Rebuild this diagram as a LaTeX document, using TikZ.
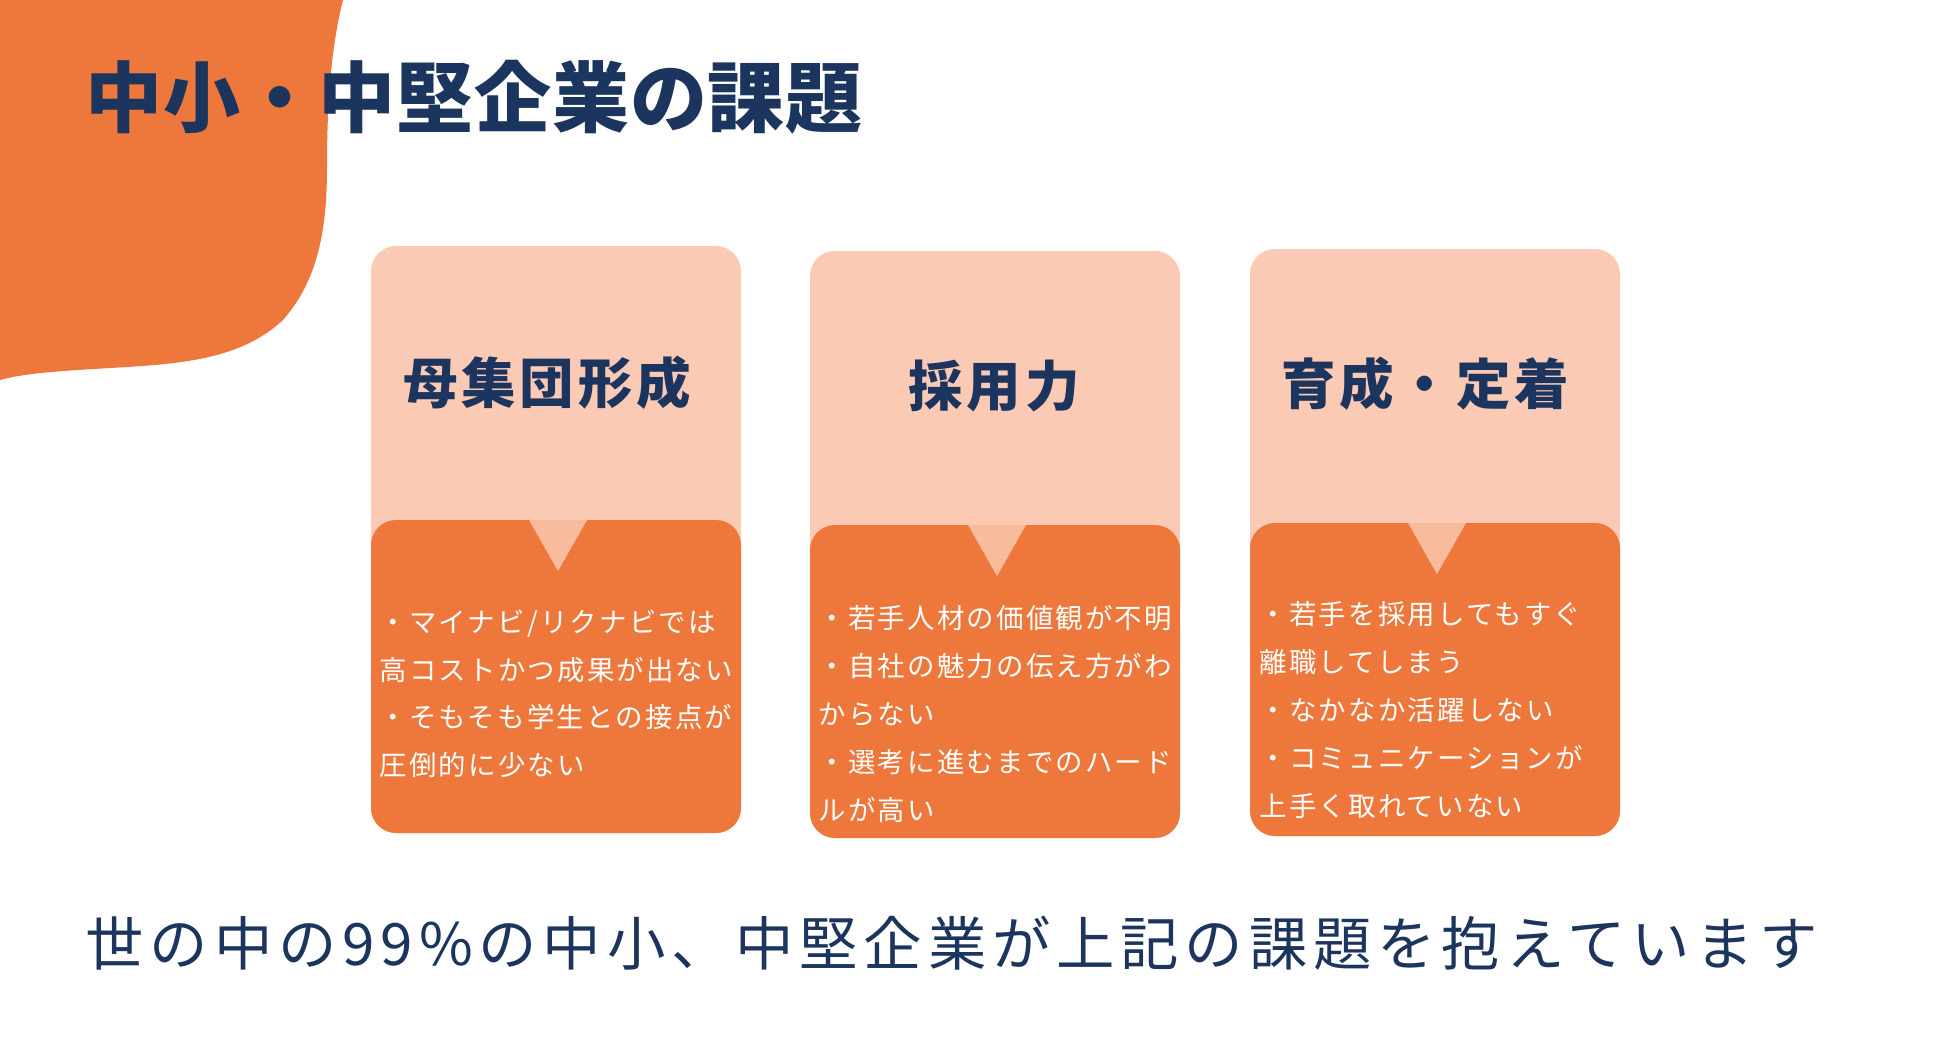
\documentclass[tikz,border=0pt]{standalone}
\usepackage{fontspec}
\setmainfont{Noto Sans CJK JP}
\newfontfamily\titlefont[LetterSpace=1]{Noto Sans CJK JP}
\newfontfamily\headfont[LetterSpace=7]{Noto Sans CJK JP}
\newfontfamily\itemfont[LetterSpace=8]{Noto Sans CJK JP}
\newfontfamily\notefont[LetterSpace=10]{Noto Sans CJK JP}

\definecolor{navy}{RGB}{28,53,94}
\definecolor{accent}{RGB}{238,119,60}
\definecolor{peach}{RGB}{251,202,180}
\definecolor{tipcol}{RGB}{248,187,156}

\begin{document}
\begin{tikzpicture}[x=0.01cm,y=-0.01cm,
    card/.style={fill=peach,rounded corners=2.5mm},
    cardbase/.style={fill=accent,rounded corners=2.5mm},
    tip/.style={fill=tipcol},
    head/.style={text=navy,font=\headfont\bfseries\fontsize{15.5}{18}\selectfont,inner sep=0},
    items/.style={text=white,font=\itemfont\fontsize{7.8}{13.6}\selectfont,align=left,anchor=north west,inner sep=0}]
    \useasboundingbox (0,0) rectangle (1950,1047);

    % blob in the corner
    \fill[accent] (0,0) -- (343,0) .. controls (333,40) and (327,90) .. (327,167)
        .. controls (327,230) and (318,280) .. (283,320)
        .. controls (240,360) and (180,364) .. (110,368)
        .. controls (60,371) and (25,373) .. (0,380) -- cycle;

    \node[anchor=west,inner sep=0,text=navy,font=\titlefont\bfseries\fontsize{21.9}{24}\selectfont] (title) at (85,97) {中小・中堅企業の課題};

    % the three cards
    \foreach \x/\dy in {371/0,810/5,1250/3}{
        \fill[card] (\x,246+\dy) rectangle (\x+370,833+\dy);
        \fill[cardbase] (\x,520+\dy) rectangle (\x+370,833+\dy);
        \fill[tip] (\x+158,520+\dy) -- (\x+216,520+\dy) -- (\x+187,571+\dy) -- cycle;
    }

    \node[head] (hd1) at (547,383) {母集団形成};
    \node[head] (hd2) at (994,386) {採用力};
    \node[head] (hd3) at (1425,384) {育成・定着};

    \node[items] (it1) at (379,609) {・マイナビ/リクナビでは\\高コストかつ成果が出ない\\・そもそも学生との接点が\\圧倒的に少ない};
    \node[items] (it2) at (818,605) {・若手人材の価値観が不明\\・自社の魅力の伝え方がわ\\からない\\・選考に進むまでのハード\\ルが高い};
    \node[items] (it3) at (1259,601) {・若手を採用してもすぐ\\離職してしまう\\・なかなか活躍しない\\・コミュニケーションが\\上手く取れていない};

    \node[anchor=west,inner sep=0,text=navy,font=\notefont\fontsize{16.6}{18}\selectfont] (note) at (85,943) {世の中の99\%の中小、中堅企業が上記の課題を抱えています};
\end{tikzpicture}
\end{document}
